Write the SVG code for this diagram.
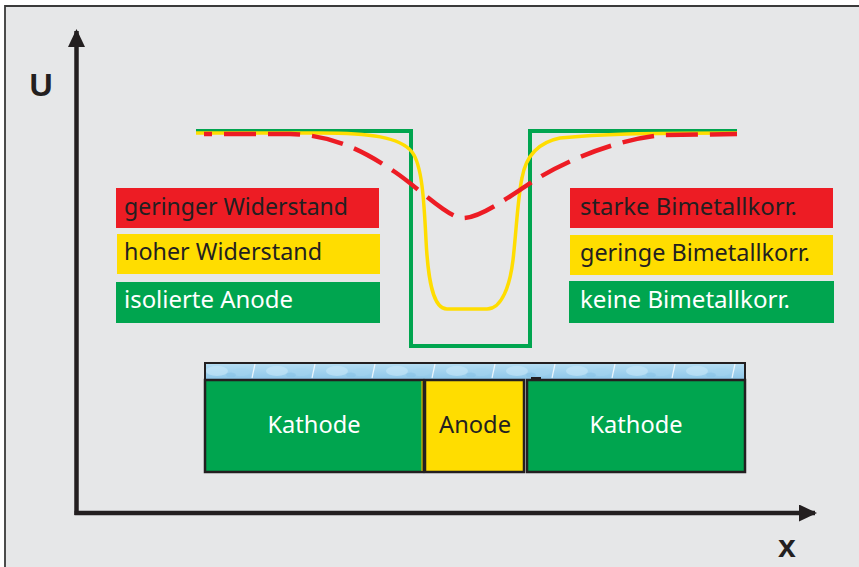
<svg xmlns="http://www.w3.org/2000/svg" width="859" height="567" viewBox="0 0 859 567">
  <defs>
    <style>
      .lbl { font-family: "Noto Sans", "Liberation Sans", sans-serif; font-size: 23px; }
      .dark { fill: #231f20; }
      .light { fill: #ffffff; }
      .axis { stroke: #231f20; stroke-width: 4.5; fill: none; }
      .box { stroke: #231f20; stroke-width: 2.5; }
      .bold { font-family: "Liberation Sans", Arial, sans-serif; font-weight: bold; fill: #231f20; }
    </style>
    <marker id="arrow" viewBox="0 0 18 17" refX="16" refY="8.5" markerWidth="18" markerHeight="17" markerUnits="userSpaceOnUse" orient="auto">
      <path d="M0,0 L18,8.5 L0,17 Z" fill="#231f20"/>
    </marker>
    <linearGradient id="water" x1="0" y1="0" x2="0" y2="1">
      <stop offset="0" stop-color="#b6def3"/>
      <stop offset="1" stop-color="#8fc8ea"/>
    </linearGradient>
    <pattern id="ripples" x="205" y="363" width="60" height="16" patternUnits="userSpaceOnUse">
      <rect width="60" height="16" fill="url(#water)"/>
      <ellipse cx="12" cy="8" rx="11" ry="5" fill="#c8e7f8" opacity="0.6"/>
      <ellipse cx="36" cy="9" rx="9" ry="4" fill="#a3d3ef" opacity="0.6"/>
      <path d="M50,1 L47,15" stroke="#ffffff" stroke-width="1.2" opacity="0.8"/>
      <ellipse cx="26" cy="12" rx="5" ry="2.5" fill="#86c2e6" opacity="0.5"/>
    </pattern>
  </defs>

  <rect x="0" y="0" width="859" height="567" fill="#ffffff"/>
  <rect x="5" y="6" width="860" height="570" fill="#e6e7e8"/>
  <path d="M5,567 L5,6 L859,6" fill="none" stroke="#3a3a3a" stroke-width="1.8"/>

  <g id="axes">
    <path class="axis" d="M76.5,515 L76.5,31" marker-end="url(#arrow)"/>
    <path class="axis" d="M74.5,513 L815,513" marker-end="url(#arrow)"/>
    <text class="bold" x="41" y="96" font-size="32" text-anchor="middle">U</text>
    <text class="bold" x="787" y="557" font-size="32" text-anchor="middle">x</text>
  </g>

  <g id="curves" fill="none">
    <path id="green-curve" d="M196,131 L411,131 L411,346 L530,346 L530,131 L737,131" stroke="#00a54f" stroke-width="4"/>
    <path id="yellow-curve" d="M196,133 L320,133 C370,133 400,137 412,152 C422,165 424,200 426,240 C428,280 433,309 447,309 L487,309 C502,309 510,285 513,260 C516,235 518,195 522,178 C526,155 540,142 560,138 C600,134 640,133 737,133" stroke="#ffdd00" stroke-width="3.5"/>
    <path id="red-curve" d="M204,134 L290,134 C330,135 360,148 395,172 C420,189 448,218 463,218 C482,218 512,194 540,177 C568,160 620,138 665,135 L737,134" stroke="#ed1c24" stroke-width="4.5" stroke-dasharray="32 12" stroke-dashoffset="24"/>
  </g>

  <g id="legend-left">
    <g id="geringer-widerstand">
      <rect x="116" y="188" width="263" height="40" fill="#ed1c24"/>
      <text class="lbl dark" x="124" y="215" textLength="224" lengthAdjust="spacingAndGlyphs">geringer Widerstand</text>
    </g>
    <g id="hoher-widerstand">
      <rect x="117" y="234" width="263" height="40" fill="#ffdd00"/>
      <text class="lbl dark" x="124" y="260" textLength="198" lengthAdjust="spacingAndGlyphs">hoher Widerstand</text>
    </g>
    <g id="isolierte-anode">
      <rect x="116" y="282" width="264" height="41" fill="#00a54f"/>
      <text class="lbl light" x="124" y="308" textLength="169" lengthAdjust="spacingAndGlyphs">isolierte Anode</text>
    </g>
  </g>

  <g id="legend-right">
    <g id="starke-bimetallkorr">
      <rect x="570" y="188" width="263" height="40" fill="#ed1c24"/>
      <text class="lbl dark" x="580" y="215" textLength="217" lengthAdjust="spacingAndGlyphs">starke Bimetallkorr.</text>
    </g>
    <g id="geringe-bimetallkorr">
      <rect x="570" y="235" width="263" height="40" fill="#ffdd00"/>
      <text class="lbl dark" x="580" y="261" textLength="230" lengthAdjust="spacingAndGlyphs">geringe Bimetallkorr.</text>
    </g>
    <g id="keine-bimetallkorr">
      <rect x="569" y="281" width="265" height="42" fill="#00a54f"/>
      <text class="lbl light" x="580" y="308" textLength="210" lengthAdjust="spacingAndGlyphs">keine Bimetallkorr.</text>
    </g>
  </g>

  <g id="electrolyte">
    <rect x="205" y="363" width="540" height="16" fill="url(#ripples)"/>
    <path d="M205,379 L205,363 L745,363 L745,379" fill="none" stroke="#231f20" stroke-width="2"/>
    <rect x="531" y="377" width="10" height="2" fill="#231f20"/>
  </g>

  <g id="kathode-left">
    <rect class="box" x="205" y="380" width="218" height="92" fill="#00a54f"/>
    <text class="lbl light" x="314" y="433" text-anchor="middle" textLength="93" lengthAdjust="spacingAndGlyphs">Kathode</text>
  </g>
  <g id="anode">
    <line x1="422" y1="381" x2="422" y2="471" stroke="#ffdd00" stroke-width="1"/>
    <rect class="box" x="425" y="380" width="99" height="92" fill="#ffdd00"/>
    <text class="lbl dark" x="475" y="433" text-anchor="middle" textLength="72" lengthAdjust="spacingAndGlyphs">Anode</text>
  </g>
  <g id="kathode-right">
    <rect class="box" x="527" y="380" width="218" height="92" fill="#00a54f"/>
    <text class="lbl light" x="636" y="433" text-anchor="middle" textLength="93" lengthAdjust="spacingAndGlyphs">Kathode</text>
  </g>
</svg>
